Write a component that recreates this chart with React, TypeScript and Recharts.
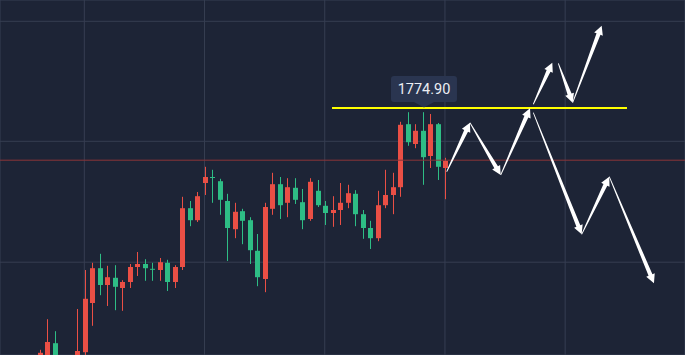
import React from "react";
import {
  ComposedChart,
  Bar,
  XAxis,
  YAxis,
  CartesianGrid,
  ReferenceLine,
  ReferenceDot,
} from "recharts";

// candle prices, one entry per bar (index 0 = first bar on the left)
const opens = [
  1732.7, 1732.1, 1735.7, 1731.2, 1729.0, 1731.6, 1734.2, 1742.4, 1748.2, 1745.4,
  1746.6, 1744.9, 1745.9, 1748.4, 1748.9, 1748.1, 1747.9, 1749.1, 1745.9, 1748.4,
  1758.2, 1756.2, 1762.4, 1763.4, 1762.7, 1759.4, 1754.7, 1757.7, 1756.2, 1751.1,
  1746.4, 1758.1, 1762.2, 1759.1, 1761.6, 1759.2, 1756.4, 1761.1, 1758.6, 1757.4,
  1757.9, 1759.1, 1760.6, 1757.2, 1754.9, 1753.2, 1758.7, 1760.4, 1761.7, 1772.2,
  1768.9, 1771.1, 1766.9, 1772.2, 1764.9,
];
const closes = [
  1734.1, 1735.9, 1731.2, 1729.0, 1731.5, 1734.4, 1743.1, 1748.2, 1745.4, 1746.7,
  1745.1, 1745.9, 1748.4, 1748.9, 1748.2, 1748.1, 1749.2, 1745.9, 1748.4, 1758.2,
  1756.2, 1760.2, 1763.4, 1763.4, 1759.6, 1754.9, 1757.6, 1756.1, 1751.2, 1746.7,
  1758.4, 1762.2, 1758.7, 1761.7, 1759.6, 1756.2, 1762.6, 1758.7, 1757.4, 1757.9,
  1759.1, 1760.7, 1757.2, 1754.9, 1753.2, 1758.7, 1760.4, 1761.7, 1772.1, 1769.2,
  1771.1, 1766.7, 1772.2, 1765.1, 1766.1,
];
const highs = [
  1734.6, 1739.7, 1737.7, 1732.0, 1732.3, 1741.4, 1747.9, 1749.1, 1750.6, 1748.6,
  1748.7, 1746.2, 1748.9, 1750.9, 1749.7, 1749.1, 1749.9, 1749.6, 1748.7, 1760.1,
  1759.4, 1760.9, 1765.1, 1764.6, 1763.1, 1760.6, 1759.1, 1758.1, 1756.7, 1753.9,
  1759.1, 1764.1, 1763.4, 1763.2, 1763.2, 1761.4, 1763.2, 1762.9, 1759.4, 1760.2,
  1762.4, 1762.1, 1761.2, 1757.9, 1756.1, 1761.1, 1764.6, 1764.1, 1772.6, 1774.2,
  1772.2, 1774.2, 1773.9, 1772.4, 1766.6,
];
const lows = [
  1731.9, 1730.9, 1729.9, 1727.5, 1728.0, 1730.9, 1733.4, 1738.6, 1743.7, 1741.9,
  1741.2, 1741.1, 1744.9, 1746.9, 1746.1, 1746.1, 1746.1, 1744.4, 1744.9, 1747.9,
  1755.2, 1755.9, 1760.4, 1759.1, 1757.1, 1749.4, 1753.2, 1752.2, 1748.9, 1745.2,
  1744.2, 1757.1, 1756.4, 1756.7, 1758.9, 1754.7, 1756.1, 1758.4, 1755.4, 1755.1,
  1755.4, 1758.2, 1755.2, 1753.1, 1751.4, 1752.7, 1758.2, 1757.2, 1760.1, 1768.6,
  1768.2, 1762.1, 1764.9, 1762.9, 1759.7,
];

// levels
const resistance = 1774.9;
const resistanceFrom = 38.83;
const resistanceTo = 78.09;
const tagAt = 51.07;
const lastPrice = 1766.2;

// projected moves drawn as arrows (bar index, price)
const arrowStartX = [54.09, 57.19, 61.28, 65.62, 68.95, 70.86, 65.62, 72.06, 75.73];
const arrowStartY = [1764.28, 1772.45, 1763.73, 1775.52, 1782.35, 1775.78, 1774.12, 1753.85, 1763.45];
const arrowEndX = [57.19, 61.28, 65.18, 68.15, 70.86, 74.72, 72.06, 75.73, 81.68];
const arrowEndY = [1772.45, 1763.73, 1774.85, 1782.45, 1775.78, 1788.62, 1753.85, 1763.45, 1745.68];

// grid positions
const gridPrices = [1749.2, 1769.35, 1789.35];
const gridBars = [5.86, 21.86, 37.86, 53.86, 69.86];

const X_DOMAIN: [number, number] = [-5.364, 85.811];
const Y_DOMAIN: [number, number] = [1733.733, 1792.9];

const RED = "#ea4f45";
const GREEN = "#2ebd85";
const BG = "#1d2436";

const data = opens.map((open, i) => ({
  i,
  open,
  close: closes[i],
  high: highs[i],
  low: lows[i],
  range: [lows[i], highs[i]],
}));

// eslint-disable-next-line @typescript-eslint/no-explicit-any
function Candle(props: any) {
  const { x, y, width, height, payload } = props;
  if (x == null || !payload) return null;
  const { open, close, high, low } = payload;
  const color = close > open ? RED : GREEN;
  const toY = (v: number) => y + ((high - v) / (high - low)) * height;
  const cx = Math.floor(x + width / 2) + 0.5;
  const top = toY(Math.max(open, close));
  const bottom = toY(Math.min(open, close));
  return (
    <g>
      <line x1={cx} x2={cx} y1={y} y2={y + height} stroke={color} strokeWidth={1} />
      <rect
        x={cx - width / 2}
        y={top}
        width={width}
        height={Math.max(1, bottom - top)}
        fill={color}
      />
    </g>
  );
}

// tapered white arrow from (x1,y1) to (x2,y2)
// eslint-disable-next-line @typescript-eslint/no-explicit-any
function Arrow(props: any) {
  const { x1, y1, x2, y2 } = props;
  const dx = x2 - x1;
  const dy = y2 - y1;
  const len = Math.hypot(dx, dy) || 1;
  const ux = dx / len;
  const uy = dy / len;
  const nx = -uy;
  const ny = ux;
  const headLen = Math.min(9, len * 0.35);
  const bx = x2 - ux * headLen;
  const by = y2 - uy * headLen;
  const pts = [
    [x1 + nx * 0.4, y1 + ny * 0.4],
    [bx + nx * 2.1, by + ny * 2.1],
    [bx + nx * 4.6, by + ny * 4.6],
    [x2, y2],
    [bx - nx * 4.6, by - ny * 4.6],
    [bx - nx * 2.1, by - ny * 2.1],
    [x1 - nx * 0.4, y1 - ny * 0.4],
  ];
  return <polygon points={pts.map((p) => p.join(",")).join(" ")} fill="#ffffff" />;
}

// eslint-disable-next-line @typescript-eslint/no-explicit-any
function PriceTag(props: any) {
  const { cx, cy } = props;
  if (cx == null) return null;
  return (
    <g>
      <rect x={cx - 33} y={cy - 32} width={66} height={26} rx={3} fill="#2a3550" />
      <polygon
        points={`${cx - 10},${cy - 6} ${cx + 10},${cy - 6} ${cx},${cy - 0.5}`}
        fill="#2a3550"
      />
      <text
        x={cx}
        y={cy - 13.5}
        textAnchor="middle"
        fill="#eceef3"
        fontSize={14.5}
        fontFamily="Roboto, 'Noto Sans', sans-serif"
      >
        {resistance.toFixed(2)}
      </text>
    </g>
  );
}

export default function App() {
  return (
    <div style={{ width: 685, height: 355, background: BG }}>
      <style>{"body{margin:0;}"}</style>
      <ComposedChart
        width={685}
        height={355}
        data={data}
        margin={{ top: 0, right: 0, bottom: 0, left: 0 }}
      >
        <CartesianGrid stroke="#363e52" strokeWidth={1} />
        <XAxis
          type="number"
          dataKey="i"
          domain={X_DOMAIN}
          ticks={gridBars}
          interval={0}
          allowDataOverflow
          hide
        />
        <YAxis
          type="number"
          domain={Y_DOMAIN}
          ticks={gridPrices}
          interval={0}
          allowDataOverflow
          hide
        />
        <ReferenceLine y={lastPrice} stroke="#8a3539" strokeWidth={1} ifOverflow="visible" />
        <Bar dataKey="range" barSize={5} shape={Candle} isAnimationActive={false} />
        <ReferenceLine
          segment={[
            { x: resistanceFrom, y: resistance },
            { x: resistanceTo, y: resistance },
          ]}
          stroke="#ffff00"
          strokeWidth={2}
          ifOverflow="visible"
        />
        <ReferenceDot
          x={tagAt}
          y={resistance}
          r={0}
          shape={PriceTag}
          ifOverflow="visible"
        />
        {arrowStartX.map((sx, k) => (
          <ReferenceLine
            key={k}
            segment={[
              { x: sx, y: arrowStartY[k] },
              { x: arrowEndX[k], y: arrowEndY[k] },
            ]}
            shape={Arrow}
            ifOverflow="visible"
          />
        ))}
      </ComposedChart>
    </div>
  );
}
